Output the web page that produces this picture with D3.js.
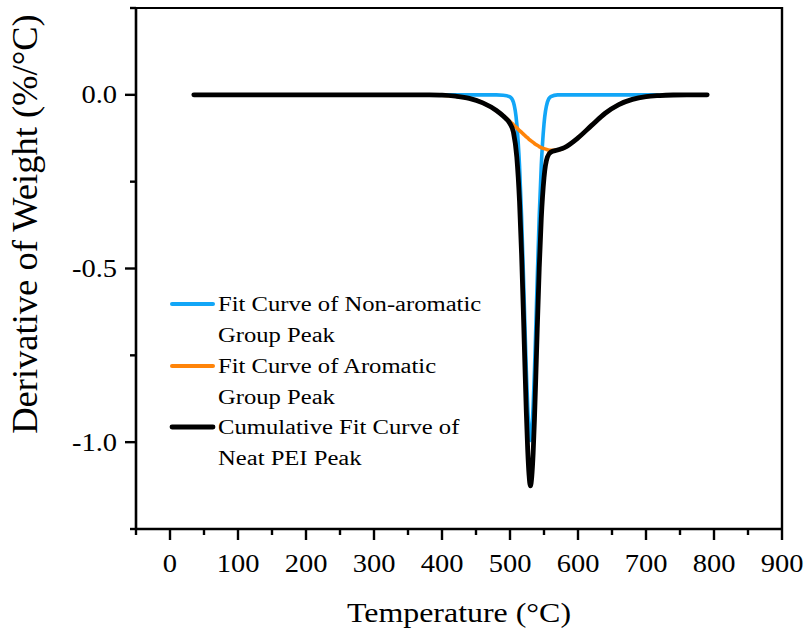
<!DOCTYPE html>
<html>
<head>
<meta charset="utf-8">
<script src="https://cdn.jsdelivr.net/npm/d3@7"></script>
<style>
  html, body { margin: 0; padding: 0; background: #fff; }
  svg { display: block; font-family: "Liberation Serif", serif; }
  text { font-family: "Liberation Serif", serif; fill: #000; }
</style>
</head>
<body>
<svg id="chart" width="808" height="635"></svg>
<script>
// Temperature samples (°C)
const temperature = [35, 100, 200, 300, 350, 380, 400, 420, 440, 460, 480, 490, 500, 505, 510, 514, 517, 520, 522, 524, 526, 528, 530, 532, 534, 536, 538, 540, 543, 546, 550, 555, 560, 570, 580, 600, 620, 640, 660, 680, 700, 720, 740, 760, 790];

// Fit curve of the non-aromatic group peak (%/°C)
const nonAromatic = [0, 0, 0, 0, 0, 0, 0, 0, 0, 0, 0, -0.001, -0.006, -0.021, -0.084, -0.204, -0.349, -0.534, -0.667, -0.793, -0.897, -0.966, -0.995, -0.966, -0.897, -0.793, -0.667, -0.534, -0.349, -0.204, -0.084, -0.021, -0.005, 0, 0, 0, 0, 0, 0, 0, 0, 0, 0, 0, 0];

// Fit curve of the aromatic group peak (%/°C)
const aromatic = [0, 0, 0, 0, 0, -0.0003, -0.001, -0.004, -0.010, -0.023, -0.045, -0.060, -0.077, -0.086, -0.095, -0.103, -0.108, -0.114, -0.117, -0.121, -0.124, -0.128, -0.131, -0.134, -0.137, -0.140, -0.143, -0.145, -0.149, -0.152, -0.155, -0.158, -0.160, -0.159, -0.152, -0.124, -0.088, -0.053, -0.028, -0.013, -0.005, -0.002, -0.0005, 0, 0];

// Cumulative fit curve of neat PEI (%/°C)
const cumulative = [0, 0, 0, 0, 0, -0.0003, -0.001, -0.004, -0.010, -0.023, -0.045, -0.061, -0.083, -0.107, -0.179, -0.307, -0.457, -0.648, -0.784, -0.914, -1.021, -1.094, -1.126, -1.100, -1.034, -0.933, -0.810, -0.679, -0.498, -0.356, -0.239, -0.179, -0.165, -0.159, -0.152, -0.124, -0.088, -0.053, -0.028, -0.013, -0.005, -0.002, -0.0005, 0, 0];

// Axis ticks
const xMajorTicks = [0, 100, 200, 300, 400, 500, 600, 700, 800, 900];
const xTickLabels = ["0", "100", "200", "300", "400", "500", "600", "700", "800", "900"];
const xMinorTicks = [-50, 50, 150, 250, 350, 450, 550, 650, 750, 850];
const yMajorTicks = [0, -0.5, -1.0];
const yTickLabels = ["0.0", "-0.5", "-1.0"];
const yMinorTicks = [0.25, -0.25, -0.75, -1.25];

const legendLabels = [
  ["Fit Curve of Non-aromatic", "Group Peak"],
  ["Fit Curve of Aromatic", "Group Peak"],
  ["Cumulative Fit Curve of", "Neat PEI Peak"]
];
const seriesColors = ["#12a6f7", "#ff8409", "#000000"];

const FONT = "Liberation Serif, serif";
const WIDEN = 1.14; // glyphs are set slightly wide
const svg = d3.select("#chart");
const plotLeft = 136, plotRight = 782, plotTop = 8, plotBottom = 529;

const x = d3.scaleLinear().domain([-50, 900]).range([plotLeft, plotRight]);
const y = d3.scaleLinear().domain([-1.25, 0.25]).range([plotBottom, plotTop]);

const series = [
  { values: nonAromatic, color: seriesColors[0], width: 3.6 },
  { values: aromatic, color: seriesColors[1], width: 3.6 },
  { values: cumulative, color: seriesColors[2], width: 4.8 }
];

const line = d3.line()
  .x(d => x(d[0]))
  .y(d => y(d[1]))
  .curve(d3.curveMonotoneX);

const curves = svg.append("g");
series.forEach(s => {
  const pts = temperature.map((t, i) => [t, s.values[i]]);
  curves.append("path")
    .datum(pts)
    .attr("d", line)
    .attr("fill", "none")
    .attr("stroke", s.color)
    .attr("stroke-width", s.width)
    .attr("stroke-linecap", "round")
    .attr("stroke-linejoin", "round");
});

// Frame
const axes = svg.append("g").attr("stroke", "#000");
axes.append("line").attr("x1", plotLeft).attr("x2", plotLeft).attr("y1", plotTop).attr("y2", plotBottom + 1).attr("stroke-width", 2.6);
axes.append("line").attr("x1", plotLeft - 1).attr("x2", plotRight + 1).attr("y1", plotBottom).attr("y2", plotBottom).attr("stroke-width", 2.6);
axes.append("line").attr("x1", plotLeft - 1).attr("x2", plotRight).attr("y1", plotTop).attr("y2", plotTop).attr("stroke-width", 2);
axes.append("line").attr("x1", plotRight).attr("x2", plotRight).attr("y1", plotTop - 1).attr("y2", plotBottom).attr("stroke-width", 2.4);

// X ticks
axes.selectAll(".xmaj").data(xMajorTicks).join("line")
  .attr("class", "xmaj")
  .attr("x1", d => x(d)).attr("x2", d => x(d))
  .attr("y1", plotBottom).attr("y2", plotBottom + 11).attr("stroke-width", 2.4);
axes.selectAll(".xmin").data(xMinorTicks).join("line")
  .attr("class", "xmin")
  .attr("x1", d => x(d)).attr("x2", d => x(d))
  .attr("y1", plotBottom).attr("y2", plotBottom + 6).attr("stroke-width", 2.4);

// Y ticks
axes.selectAll(".ymaj").data(yMajorTicks).join("line")
  .attr("class", "ymaj")
  .attr("x1", plotLeft - 11).attr("x2", plotLeft)
  .attr("y1", d => y(d)).attr("y2", d => y(d)).attr("stroke-width", 2.4);
axes.selectAll(".ymin").data(yMinorTicks).join("line")
  .attr("class", "ymin")
  .attr("x1", plotLeft - 6).attr("x2", plotLeft)
  .attr("y1", d => y(d)).attr("y2", d => y(d)).attr("stroke-width", 2.4);

// Tick labels
svg.append("g").selectAll("text").data(xMajorTicks).join("text")
  .attr("transform", d => `translate(${x(d)},572) scale(${WIDEN},1)`)
  .attr("text-anchor", "middle")
  .attr("font-family", FONT)
  .attr("font-size", 25)
  .text((d, i) => xTickLabels[i]);

svg.append("g").selectAll("text").data(yMajorTicks).join("text")
  .attr("transform", d => `translate(117,${y(d) + 8.5}) scale(${WIDEN},1)`)
  .attr("text-anchor", "end")
  .attr("font-family", FONT)
  .attr("font-size", 25)
  .text((d, i) => yTickLabels[i]);

// Axis titles
svg.append("text")
  .attr("transform", `translate(459,622) scale(${WIDEN},1)`)
  .attr("text-anchor", "middle")
  .attr("font-family", FONT)
  .attr("font-size", 28)
  .text("Temperature (°C)");

svg.append("text")
  .attr("transform", "translate(37, 224) rotate(-90)")
  .attr("text-anchor", "middle")
  .attr("font-family", FONT)
  .attr("font-size", 36.5)
  .text("Derivative of Weight (%/°C)");

// Legend
const legend = svg.append("g");
const rowY = [304, 366, 427];
legendLabels.forEach((lines, i) => {
  legend.append("line")
    .attr("x1", 172).attr("x2", 213)
    .attr("y1", rowY[i]).attr("y2", rowY[i])
    .attr("stroke", seriesColors[i])
    .attr("stroke-width", i === 2 ? 4.8 : 4)
    .attr("stroke-linecap", "round");
  lines.forEach((t, j) => {
    legend.append("text")
      .attr("transform", `translate(218,${rowY[i] + 7 + j * 31}) scale(${WIDEN},1)`)
      .attr("font-family", FONT)
      .attr("font-size", 21.6)
      .text(t);
  });
});
</script>
</body>
</html>
